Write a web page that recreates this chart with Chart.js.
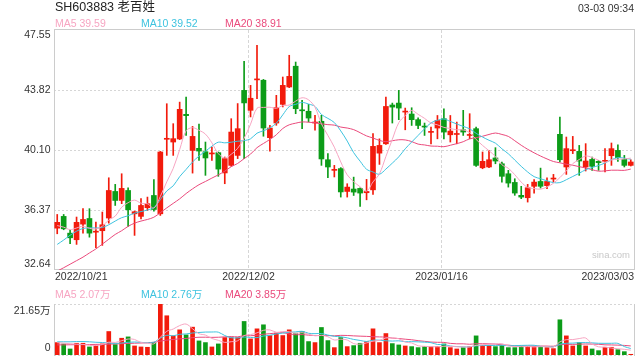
<!DOCTYPE html>
<html>
<head>
<meta charset="utf-8">
<script src="https://cdn.jsdelivr.net/npm/chart.js@4.4.1/dist/chart.umd.min.js"></script>
<style>
  html, body { margin: 0; padding: 0; background: #fff; }
  #wrap { position: relative; width: 640px; height: 360px; overflow: hidden; }
  #kline { position: absolute; left: 0; top: 0; }
  #vol { position: absolute; left: 0; top: 290px; }
</style>
</head>
<body>
<div id="wrap">
  <canvas id="kline" width="640" height="290"></canvas>
  <canvas id="vol" width="640" height="70"></canvas>
</div>
<script>
// SH603883 daily k-line + volume (sina style)

// ── Data ──
const dates = [
  '2022/10/21','2022/10/24','2022/10/25','2022/10/26','2022/10/27','2022/10/28','2022/10/31',
  '2022/11/01','2022/11/02','2022/11/03','2022/11/04','2022/11/07','2022/11/08','2022/11/09',
  '2022/11/10','2022/11/11','2022/11/14','2022/11/15','2022/11/16','2022/11/17','2022/11/18',
  '2022/11/21','2022/11/22','2022/11/23','2022/11/24','2022/11/25','2022/11/28','2022/11/29',
  '2022/11/30','2022/12/01','2022/12/02','2022/12/05','2022/12/06','2022/12/07','2022/12/08',
  '2022/12/09','2022/12/12','2022/12/13','2022/12/14','2022/12/15','2022/12/16','2022/12/19',
  '2022/12/20','2022/12/21','2022/12/22','2022/12/23','2022/12/26','2022/12/27','2022/12/28',
  '2022/12/29','2022/12/30','2023/01/03','2023/01/04','2023/01/05','2023/01/06','2023/01/09',
  '2023/01/10','2023/01/11','2023/01/12','2023/01/13','2023/01/16','2023/01/17','2023/01/18',
  '2023/01/19','2023/01/20','2023/01/30','2023/01/31','2023/02/01','2023/02/02','2023/02/03',
  '2023/02/06','2023/02/07','2023/02/08','2023/02/09','2023/02/10','2023/02/13','2023/02/14',
  '2023/02/15','2023/02/16','2023/02/17','2023/02/20','2023/02/21','2023/02/22','2023/02/23',
  '2023/02/24','2023/02/27','2023/02/28','2023/03/01','2023/03/02','2023/03/03'
];

const open = [
  35.24,35.97,34.93,34.52,35.49,35.84,34.99,35.08,35.87,37.52,
  36.96,37.58,36.13,35.97,36.51,37.27,36.13,40.76,40.59,40.78,
  42.31,40.07,40.20,39.99,39.85,39.93,38.67,39.14,39.76,43.80,
  42.56,44.45,44.43,40.86,41.77,42.93,44.01,45.30,42.56,42.50,
  41.77,41.88,39.49,38.83,38.94,37.52,37.67,37.71,37.44,37.62,
  39.90,40.48,42.89,43.01,42.45,42.33,41.98,41.54,41.19,41.46,
  42.04,41.04,41.06,41.35,41.00,41.42,38.99,39.04,39.60,39.24,
  38.62,38.08,37.28,37.13,37.84,38.14,37.88,38.29,41.07,39.04,
  40.05,40.01,39.04,39.51,39.39,39.39,39.74,40.07,39.51,39.14
];
const high = [
  36.09,36.09,35.10,35.93,36.45,36.45,35.62,36.24,38.37,37.96,
  38.62,37.75,36.30,37.07,37.17,38.25,40.01,42.97,41.73,43.07,
  43.39,41.56,41.71,40.59,40.28,39.97,39.66,42.04,42.98,45.61,
  44.11,46.60,44.48,41.63,43.49,44.63,45.98,45.56,43.18,42.93,
  42.25,42.25,39.87,39.14,39.00,38.00,38.41,37.74,38.27,41.11,
  40.79,43.38,43.01,43.80,42.70,42.72,42.10,41.77,41.52,42.24,
  42.66,42.24,41.83,42.56,42.35,41.52,39.97,40.07,40.24,39.35,
  38.83,38.31,37.84,37.96,38.25,38.97,38.37,38.58,42.14,40.90,
  40.94,40.38,40.49,39.66,39.45,40.18,40.53,40.42,39.76,39.49
];
const low = [
  34.89,35.14,34.27,34.23,34.93,34.68,34.02,34.17,35.55,36.65,
  36.76,35.35,34.79,35.82,36.34,36.30,36.03,39.76,39.76,40.74,
  41.00,38.66,39.45,38.52,39.45,38.46,38.00,39.08,39.56,39.56,
  42.15,43.29,40.95,40.03,41.63,42.77,43.97,42.35,41.42,41.84,
  41.32,39.14,38.38,38.42,37.17,37.17,37.27,36.59,37.00,37.33,
  39.20,40.44,41.77,41.98,41.35,41.62,41.42,41.00,40.48,40.79,
  40.79,40.59,40.48,41.00,40.79,39.08,38.93,39.00,39.24,38.10,
  37.79,37.28,37.07,36.86,37.42,37.73,37.69,38.10,39.35,38.58,
  39.87,38.52,38.79,38.83,38.83,38.73,39.14,39.39,39.04,39.10
];
const close = [
  35.60,35.20,34.64,35.60,35.78,34.93,35.02,35.45,37.58,36.96,
  37.71,36.38,36.26,36.65,36.76,36.40,39.97,40.82,40.80,42.62,
  42.23,40.94,40.03,39.60,39.88,38.91,39.56,41.21,41.42,43.02,
  43.31,44.50,41.46,41.46,42.73,44.11,44.67,42.66,42.53,42.08,
  41.80,39.54,39.04,38.87,37.49,37.79,37.48,37.42,37.52,40.32,
  40.38,42.80,42.76,42.70,42.49,41.98,41.62,41.52,41.23,41.93,
  41.21,41.27,41.10,41.21,41.04,39.14,39.39,39.49,39.41,38.46,
  38.04,37.42,37.17,37.75,38.10,37.84,38.14,38.33,39.49,40.18,
  40.09,39.41,39.41,39.08,39.31,39.43,40.18,39.62,39.14,39.35
];

const ma5 = [
  35.40,35.30,35.15,35.25,35.36,35.23,35.19,35.36,35.75,35.99,
  36.54,36.82,36.98,36.79,36.75,36.49,37.21,38.12,38.95,40.12,
  41.29,41.48,41.32,41.08,40.54,39.87,39.60,39.83,40.20,40.82,
  41.70,42.69,42.74,42.75,42.69,42.85,42.89,43.13,43.34,43.21,
  42.75,41.72,41.00,40.27,39.35,38.55,38.13,37.81,37.54,38.11,
  38.62,39.69,40.76,41.79,42.23,42.55,42.31,42.06,41.77,41.66,
  41.50,41.43,41.35,41.34,41.17,40.75,40.38,40.05,39.69,39.18,
  38.96,38.56,38.10,37.77,37.70,37.66,37.80,38.03,38.38,38.80,
  39.25,39.50,39.72,39.63,39.46,39.33,39.48,39.52,39.54,39.59
];
const ma10 = [
  34.23,34.50,34.80,35.05,35.22,35.26,35.25,35.28,35.45,35.68,
  35.89,36.01,36.17,36.27,36.37,36.52,37.01,37.55,37.87,38.44,
  38.89,39.35,39.72,40.02,40.33,40.58,40.54,40.58,40.64,40.68,
  40.79,41.14,41.29,41.47,41.76,42.28,42.79,42.93,43.05,42.95,
  42.80,42.30,42.06,41.80,41.28,40.65,39.93,39.40,38.90,38.73,
  38.59,38.91,39.28,39.67,40.17,40.59,41.00,41.41,41.78,41.94,
  42.02,41.87,41.71,41.56,41.41,41.13,40.90,40.70,40.52,40.17,
  39.86,39.47,39.08,38.73,38.44,38.31,38.18,38.07,38.07,38.25,
  38.45,38.65,38.87,39.01,39.13,39.29,39.49,39.62,39.59,39.52
];
const ma20 = [
  32.57,32.78,33.00,33.22,33.44,33.70,33.95,34.25,34.55,34.85,
  35.08,35.35,35.55,35.68,35.78,35.92,36.20,36.50,36.78,37.06,
  37.39,37.68,37.94,38.14,38.35,38.55,38.78,39.06,39.26,39.56,
  39.84,40.24,40.50,40.75,41.04,41.43,41.66,41.76,41.84,41.82,
  41.79,41.72,41.67,41.64,41.52,41.46,41.36,41.17,40.97,40.84,
  40.69,40.61,40.67,40.73,40.72,40.62,40.46,40.41,40.34,40.33,
  40.30,40.39,40.49,40.61,40.79,40.86,40.95,41.06,41.15,41.06,
  40.94,40.67,40.39,40.14,39.92,39.72,39.54,39.38,39.30,39.21,
  39.15,39.06,38.98,38.87,38.78,38.80,38.84,38.84,38.83,38.91
];

// volume in 万 (10k)
const vol = [
  5.27,4.70,2.56,4.98,4.98,3.42,4.13,4.70,9.97,4.41,
  7.12,7.69,3.84,3.42,3.28,5.41,21.65,16.66,8.12,10.68,
  8.54,11.82,5.98,5.27,3.42,4.70,7.40,7.40,7.40,14.24,
  6.84,11.11,12.82,8.26,9.26,8.26,10.68,9.26,9.97,5.70,
  5.27,11.68,6.12,3.13,7.40,3.56,3.99,4.98,5.70,11.11,
  5.27,9.11,4.84,4.27,3.84,3.56,3.13,3.56,3.56,3.56,
  4.70,3.13,2.56,3.13,3.56,8.12,4.13,4.13,3.56,4.13,
  3.13,3.13,3.70,3.70,3.56,3.56,3.13,2.71,14.95,8.12,
  3.84,5.27,3.84,2.56,1.85,3.28,3.28,2.28,1.42,0.30
];
const vma5 = [
  5.20,5.00,4.80,4.60,4.50,4.13,4.01,4.44,5.44,5.33,
  6.07,6.78,6.61,5.30,5.07,4.73,7.52,10.08,11.02,12.50,
  13.13,11.16,9.03,8.46,7.01,6.24,5.35,5.64,6.06,8.23,
  8.66,9.40,10.48,10.65,9.66,9.94,9.86,9.14,9.49,8.77,
  8.18,8.38,7.75,6.38,6.72,6.38,4.84,4.61,5.13,5.87,
  6.21,7.23,7.21,6.92,5.47,5.12,3.93,3.67,3.53,3.47,
  3.70,3.70,3.50,3.42,3.42,4.10,4.30,4.61,4.70,4.81,
  3.82,3.62,3.53,3.56,3.44,3.53,3.53,3.33,5.58,6.49,
  6.55,6.98,7.20,4.73,3.47,3.36,2.96,2.65,2.42,2.07
];
const vma10 = [
  5.60,5.60,5.60,5.70,5.70,5.60,5.40,5.30,5.10,4.91,
  5.10,5.40,5.52,5.37,5.20,5.40,7.15,8.35,8.16,8.79,
  8.93,9.34,9.56,9.74,9.76,9.68,8.26,7.33,7.26,7.62,
  7.45,7.38,8.06,8.36,8.94,9.30,9.63,9.81,10.07,9.22,
  9.06,9.12,8.45,7.93,7.75,7.28,6.61,6.18,5.75,6.29,
  6.29,6.04,5.91,6.02,5.67,5.67,5.58,5.44,5.23,4.47,
  4.41,3.82,3.59,3.47,3.45,3.90,4.00,4.06,4.06,4.12,
  3.96,3.96,4.07,4.13,4.13,3.67,3.57,3.43,4.57,4.97,
  5.04,5.25,5.27,5.15,4.98,4.96,4.97,4.93,3.57,2.76
];
const vma20 = [
  4.30,4.30,4.35,4.40,4.40,4.45,4.50,4.55,4.60,4.70,
  4.80,4.90,5.00,5.10,5.20,5.40,5.90,6.30,6.60,6.85,
  7.01,7.37,7.54,7.55,7.48,7.54,7.70,7.84,7.71,8.20,
  8.19,8.36,8.81,9.05,9.35,9.49,8.94,8.57,8.67,8.42,
  8.25,8.25,8.25,8.15,8.35,8.29,8.12,8.00,7.91,7.76,
  7.68,7.58,7.18,6.98,6.71,6.47,6.09,5.81,5.49,5.38,
  5.35,4.93,4.75,4.75,4.56,4.78,4.79,4.75,4.64,4.29,
  4.19,3.89,3.83,3.80,3.79,3.79,3.79,3.74,4.31,4.54,
  4.50,4.61,4.67,4.64,4.56,4.31,4.27,4.18,4.07,3.85
];

const priceTicks = [47.55, 43.82, 40.10, 36.37, 32.64];
const volTicks = [21.65, 0];
const dateTicks = ['2022/10/21', '2022/12/02', '2023/01/16', '2023/03/03'];
const priceLegend = [['MA5', '39.59'], ['MA10', '39.52'], ['MA20', '38.91']];
const volLegend = [['MA5', '2.07万'], ['MA10', '2.76万'], ['MA20', '3.85万']];
const title = 'SH603883 老百姓';
const stamp = '03-03 09:34';

// ── Theme ──
const FONT = "'Liberation Sans', Arial, 'Noto Sans CJK SC', sans-serif";
const UP = '#f21b0c';
const DOWN = '#0c9c18';
const MA_COLORS = ['#f7a5c2', '#3ec3df', '#ea4a7c'];
const GRID = '#d6d6d6';
const FRAME = '#cccccc';
const LEGEND_X = [55, 141, 225];

const candleColor = open.map((o, i) => close[i] >= o ? UP : DOWN);

function maLine(data, color) {
  return {
    type: 'line', data, borderColor: color, borderWidth: 1,
    pointRadius: 0, tension: 0.35, order: 0
  };
}

function hLine(ctx, x1, x2, y) {
  ctx.beginPath(); ctx.moveTo(x1, y); ctx.lineTo(x2, y); ctx.stroke();
}
function vLine(ctx, x, y1, y2) {
  ctx.beginPath(); ctx.moveTo(x, y1); ctx.lineTo(x, y2); ctx.stroke();
}
function text(ctx, str, x, y, size, color, align) {
  ctx.font = size + 'px ' + FONT;
  ctx.fillStyle = color;
  ctx.textAlign = align || 'left';
  ctx.textBaseline = 'middle';
  ctx.fillText(str, x, y);
}
function dividerX(x, d) {
  return Math.round(x.getPixelForValue(dates.indexOf(d)) - 2.5) + 0.5;
}

// ── Price panel decorations ──
const klineDecor = {
  id: 'klineDecor',
  beforeDatasetsDraw(chart) {
    const { ctx, chartArea: a, scales: { x, y } } = chart;
    ctx.save();
    ctx.lineWidth = 1;
    ctx.strokeStyle = GRID;
    ctx.setLineDash([2, 2]);
    priceTicks.slice(1, -1).forEach(v => {
      hLine(ctx, a.left, a.right, Math.round(y.getPixelForValue(v)) + 0.5);
    });
    ctx.setLineDash([3, 2]);
    dateTicks.slice(1, -1).forEach(d => vLine(ctx, dividerX(x, d), a.top, a.bottom));
    ctx.setLineDash([]);
    ctx.strokeStyle = FRAME;
    ctx.strokeRect(a.left + 0.5, a.top - 0.5, a.right - a.left, a.bottom - a.top);
    ctx.restore();
  },
  afterDraw(chart) {
    const { ctx, chartArea: a, scales: { x, y } } = chart;
    ctx.save();
    text(ctx, title, a.left + 1, 8, 12.5, '#222');
    text(ctx, stamp, a.right, 9.5, 10.5, '#333', 'right');
    priceLegend.forEach(([n, v], i) => text(ctx, n + ' ' + v, LEGEND_X[i], 24, 10.5, MA_COLORS[i]));
    priceTicks.forEach((v, i) => {
      let py = y.getPixelForValue(v);
      if (i === 0) py += 5.5;
      if (i === priceTicks.length - 1) py -= 6;
      text(ctx, v.toFixed(2), a.left - 3.5, py, 10.5, '#333', 'right');
    });
    dateTicks.forEach((d, i) => {
      if (i === 0) text(ctx, d, a.left + 1, 277.5, 10.5, '#333', 'left');
      else if (i === dateTicks.length - 1) text(ctx, d, a.right, 277.5, 10.5, '#333', 'right');
      else text(ctx, d, dividerX(x, d), 277.5, 10.5, '#333', 'center');
    });
    text(ctx, 'sina.com', a.right - 4, a.bottom - 15, 9.5, '#c8c8c8', 'right');
    ctx.restore();
  }
};

new Chart(document.getElementById('kline'), {
  type: 'bar',
  data: {
    labels: dates,
    datasets: [
      maLine(ma5, MA_COLORS[0]),
      maLine(ma10, MA_COLORS[1]),
      maLine(ma20, MA_COLORS[2]),
      {
        data: open.map((o, i) => [o, close[i]]),
        backgroundColor: candleColor,
        barThickness: 5, minBarLength: 1, grouped: false, order: 1
      },
      {
        data: low.map((l, i) => [l, high[i]]),
        backgroundColor: candleColor,
        barThickness: 1, grouped: false, order: 2
      }
    ]
  },
  options: {
    responsive: false,
    animation: false,
    events: [],
    layout: { padding: { left: 54, right: 6, top: 30, bottom: 20 } },
    scales: {
      x: { display: false, offset: true },
      y: { display: false, min: priceTicks[priceTicks.length - 1], max: priceTicks[0] }
    },
    plugins: { legend: { display: false }, tooltip: { enabled: false } }
  },
  plugins: [klineDecor]
});

// ── Volume panel decorations ──
const volDecor = {
  id: 'volDecor',
  beforeDatasetsDraw(chart) {
    const { ctx, chartArea: a, scales: { x } } = chart;
    ctx.save();
    ctx.lineWidth = 1;
    ctx.strokeStyle = GRID;
    ctx.setLineDash([2, 2]);
    hLine(ctx, a.left, a.right, a.top + 0.5);
    hLine(ctx, a.left, a.right, a.bottom + 0.5);
    ctx.setLineDash([3, 2]);
    dateTicks.slice(1, -1).forEach(d => vLine(ctx, dividerX(x, d), a.top, a.bottom));
    ctx.setLineDash([]);
    ctx.strokeStyle = FRAME;
    vLine(ctx, a.left + 0.5, a.top, a.bottom + 1);
    vLine(ctx, a.right + 0.5, a.top, a.bottom + 1);
    ctx.restore();
  },
  afterDraw(chart) {
    const { ctx, chartArea: a, scales: { y } } = chart;
    ctx.save();
    volLegend.forEach(([n, v], i) => text(ctx, n + ' ' + v, LEGEND_X[i], 5, 10.5, MA_COLORS[i]));
    volTicks.forEach((v, i) => {
      let py = y.getPixelForValue(v);
      py += i === 0 ? 7.5 : -6.5;
      text(ctx, v === 0 ? '0' : v.toFixed(2) + '万', a.left - 3.5, py, 10.5, '#333', 'right');
    });
    ctx.restore();
  }
};

new Chart(document.getElementById('vol'), {
  type: 'bar',
  data: {
    labels: dates,
    datasets: [
      maLine(vma5, MA_COLORS[0]),
      maLine(vma10, MA_COLORS[1]),
      maLine(vma20, MA_COLORS[2]),
      {
        data: vol,
        backgroundColor: candleColor,
        barThickness: 4, grouped: false, order: 1
      }
    ]
  },
  options: {
    responsive: false,
    animation: false,
    events: [],
    layout: { padding: { left: 54, right: 6, top: 14, bottom: 5 } },
    scales: {
      x: { display: false, offset: true },
      y: { display: false, min: volTicks[1], max: volTicks[0] }
    },
    plugins: { legend: { display: false }, tooltip: { enabled: false } }
  },
  plugins: [volDecor]
});
</script>
</body>
</html>
